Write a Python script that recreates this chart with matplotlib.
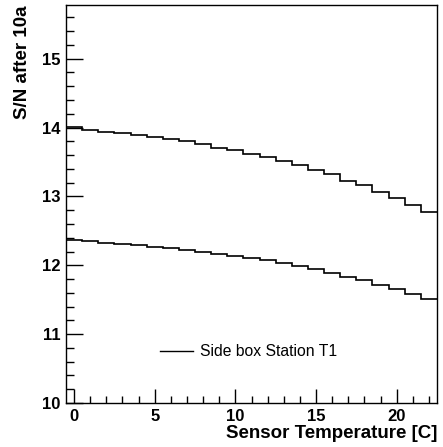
import matplotlib
matplotlib.use("Agg")
import matplotlib.pyplot as plt
from matplotlib.ticker import MultipleLocator
import numpy as np

# bin centres (sensor temperature, C)
temps = list(range(0, 23))
# S/N after 10a, upper and lower histograms
sn_upper = [14.01, 13.97, 13.94, 13.92, 13.89, 13.87, 13.83, 13.80, 13.76, 13.71,
            13.67, 13.62, 13.57, 13.51, 13.45, 13.38, 13.32, 13.23, 13.16, 13.07,
            12.98, 12.88, 12.78]
sn_lower = [12.37, 12.36, 12.33, 12.31, 12.29, 12.27, 12.25, 12.22, 12.20, 12.16,
            12.14, 12.11, 12.07, 12.03, 11.99, 11.94, 11.89, 11.83, 11.78, 11.71,
            11.65, 11.58, 11.51]
legend_label = "Side box Station T1"
x_label = "Sensor Temperature [C]"
y_label = "S/N after 10a"

plt.rcParams['font.family'] = ['Liberation Sans', 'DejaVu Sans']

fig = plt.figure(figsize=(4.43, 4.47), dpi=100)
fig.patch.set_facecolor('white')
ax = fig.add_axes([0.149, 0.0984, 0.8375, 0.8904])

edges = np.array(temps + [temps[-1] + 1]) - 0.5
ax.stairs(sn_upper, edges, baseline=None, color='black', linewidth=1.2)
ax.stairs(sn_lower, edges, baseline=None, color='black', linewidth=1.2)

ax.set_xlim(-0.5, 22.5)
ax.set_ylim(10, 15.78)

ax.xaxis.set_major_locator(MultipleLocator(5))
ax.xaxis.set_minor_locator(MultipleLocator(1))
ax.yaxis.set_major_locator(MultipleLocator(1))
ax.yaxis.set_minor_locator(MultipleLocator(0.2))
ax.tick_params(axis='both', which='both', direction='in', top=False, right=False,
               width=1.0)
ax.tick_params(axis='x', which='major', length=10, pad=4)
ax.tick_params(axis='x', which='minor', length=5)
ax.tick_params(axis='y', which='major', length=12, pad=4)
ax.tick_params(axis='y', which='minor', length=6)
for lab in ax.get_xticklabels() + ax.get_yticklabels():
    lab.set_fontweight('bold')
    lab.set_fontsize(12)
for s in ax.spines.values():
    s.set_linewidth(1.0)

ax.set_xlabel(x_label, fontsize=13.5, fontweight='bold', loc='right', labelpad=1)
ax.set_ylabel(y_label, fontsize=13.5, fontweight='bold', loc='top', labelpad=8)

# legend entry
ax.plot([5.35, 7.4], [10.75, 10.75], color='black', linewidth=1.0)
ax.text(7.8, 10.75, legend_label, fontsize=11.3, va='center', ha='left')

fig.savefig("out.png", dpi=100, facecolor='white')
